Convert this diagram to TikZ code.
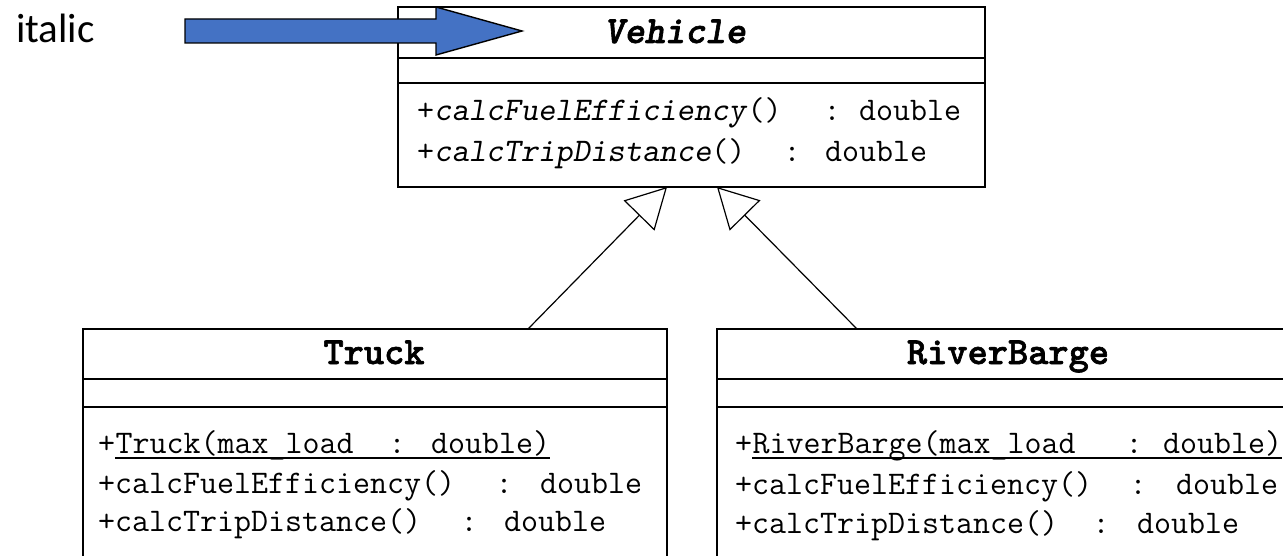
\documentclass[tikz,border=0pt]{standalone}
\usepackage{fontspec}
\newfontfamily\labelfont{Carlito}
\newfontfamily\titlefont{lmmonolt10-bold.otf}[FakeBold=1.6, ItalicFont=lmmonolt10-boldoblique.otf]
\usetikzlibrary{arrows.meta}
\definecolor{calloutblue}{HTML}{4472C4}

\tikzset{
  classbox/.style={draw=black, line width=1.6pt, inner sep=0pt, fill=white},
  divider/.style={line width=1.6pt},
  member/.style={anchor=base west, inner sep=0pt, font=\ttfamily\fontsize{33pt}{35pt}\selectfont},
  colon/.style={anchor=base, inner sep=0pt, font=\ttfamily\fontsize{33pt}{35pt}\selectfont},
  classname/.style={anchor=base, inner sep=0pt, font=\titlefont\fontsize{38.5pt}{40pt}\selectfont},
  generalization/.style={line width=1.2pt, -{Triangle[open, length=40pt, width=43pt, fill=white]}},
  underlined/.style={line width=1.4pt},
  callout/.style={fill=calloutblue, draw=black, line width=1.4pt, line join=miter},
}

\begin{document}
\begin{tikzpicture}[x=1pt, y=-1pt]
\useasboundingbox (0,0) rectangle (1283,556);
\fill[white] (0,0) rectangle (1283,556);
\clip (0,0) rectangle (1283,556);

% ---- abstract class Vehicle ----
\node[classbox, minimum width=587pt, minimum height=180pt] (vehicle) at (691.5,97) {};
\draw[divider] (vehicle.west |- 0,58) -- (vehicle.east |- 0,58);
\draw[divider] (vehicle.west |- 0,83) -- (vehicle.east |- 0,83);
\node[classname] (vehicleName) at (675,43) {\itshape Vehicle};
\node[member] (v1) at (417,121) {+\textsl{calcFuelEfficiency}()};
\node[colon]  (v1c) at (832,121) {:};
\node[member] (v1t) at (859,121) {double};
\node[member] (v2) at (417,162) {+\textsl{calcTripDistance}()};
\node[colon]  (v2c) at (792,162) {:};
\node[member] (v2t) at (825,162) {double};

% ---- class Truck ----
\node[classbox, minimum width=584pt, minimum height=300pt] (truck) at (375,479) {};
\draw[divider] (truck.west |- 0,379) -- (truck.east |- 0,379);
\draw[divider] (truck.west |- 0,407) -- (truck.east |- 0,407);
\node[classname] (truckName) at (374,364) {Truck};
\node[member] (t1p) at (98,453) {+};
\node[member] (t1) at (t1p.base east) {Truck(max\_load};
\node[colon]  (t1c) at (397,453) {:};
\node[member] (t1t) at (431,453) {double)};
\draw[underlined] ([yshift=-5pt]t1.base west) -- ([yshift=-5pt]t1t.base east);
\node[member] (t2) at (98,493) {+calcFuelEfficiency()};
\node[colon]  (t2c) at (504,493) {:};
\node[member] (t2t) at (540,493) {double};
\node[member] (t3) at (98,531) {+calcTripDistance()};
\node[colon]  (t3c) at (469,531) {:};
\node[member] (t3t) at (504,531) {double};

% ---- class RiverBarge ----
\node[classbox, minimum width=600pt, minimum height=300pt] (barge) at (1017,479) {};
\draw[divider] (barge.west |- 0,379) -- (barge.east |- 0,379);
\draw[divider] (barge.west |- 0,407) -- (barge.east |- 0,407);
\node[classname] (bargeName) at (1008,364) {RiverBarge};
\node[member] (b1p) at (735,453) {+};
\node[member] (b1) at (b1p.base east) {RiverBarge(max\_load};
\node[colon]  (b1c) at (1134,453) {:};
\node[member] (b1t) at (1163,453) {double)};
\draw[underlined] ([yshift=-5pt]b1.base west) -- ([yshift=-5pt]b1t.base east);
\node[member] (b2) at (735,494) {+calcFuelEfficiency()};
\node[colon]  (b2c) at (1138,494) {:};
\node[member] (b2t) at (1176,494) {double};
\node[member] (b3) at (735,533) {+calcTripDistance()};
\node[colon]  (b3c) at (1101,533) {:};
\node[member] (b3t) at (1137,533) {double};

% ---- generalization arrows ----
\coordinate (truckJoin) at (528,329);
\coordinate (bargeJoin) at (857,329);
\coordinate (truckTip) at (667,187);
\coordinate (bargeTip) at (717,187);
\draw[generalization] (truckJoin) -- (truckTip);
\draw[generalization] (bargeJoin) -- (bargeTip);

% ---- callout ----
\node[anchor=base west, inner sep=0pt, font=\labelfont\fontsize{41pt}{44pt}\selectfont] (note) at (16,43) {italic};
\coordinate (calloutTail) at (185,31);
\draw[callout] (calloutTail) ++(0,-12) -- ++(251,0) -- ++(0,-12) -- (522,31)
  -- (436,55) -- ++(0,-12) -- ++(-251,0) -- cycle;
\end{tikzpicture}
\end{document}
